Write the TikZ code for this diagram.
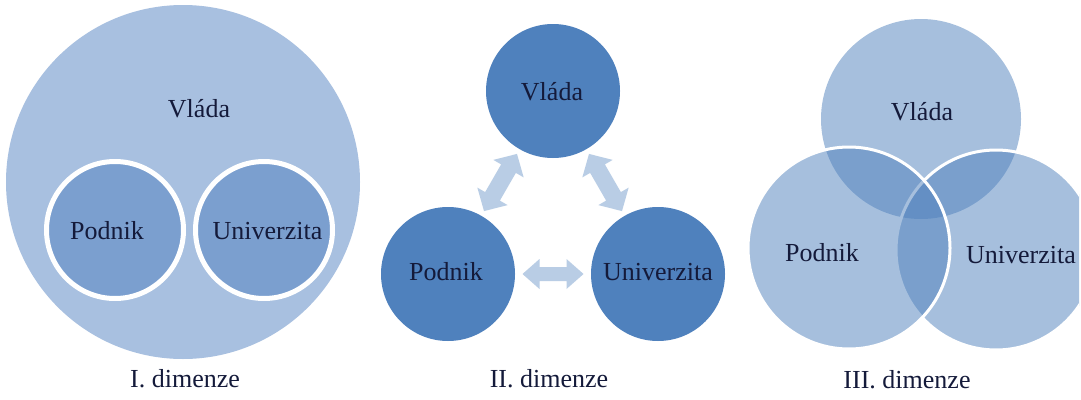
\documentclass[tikz,border=0pt]{standalone}
\usepackage{fontspec}
\setmainfont{Liberation Serif}
\newfontfamily\tnrfont{Liberation Serif}
\usetikzlibrary{calc}
\definecolor{accent}{HTML}{4F81BD}
\definecolor{bigI}{HTML}{A8C0E0}
\definecolor{innerI}{HTML}{7B9FCF}
\definecolor{arrowc}{HTML}{B9CDE5}
\definecolor{txt}{HTML}{141A3A}
% #1 half length, #2 head base, #3 half head width, #4 half shaft
\newcommand\dblarr[4]{(-#1,0) -- (-#2,#3) -- (-#2,#4) -- (#2,#4) -- (#2,#3) -- (#1,0) -- (#2,-#3) -- (#2,-#4) -- (-#2,-#4) -- (-#2,-#3) -- cycle}
\tikzset{
  lbl/.style={font=\tnrfont\fontsize{26}{30}\selectfont, text=txt, anchor=base, inner sep=0pt},
  circ/.style={circle, inner sep=0pt, minimum size=#1},
  arr/.style={fill=arrowc, draw=none},
}
\begin{document}
\begin{tikzpicture}[x=1pt,y=-1pt]
\useasboundingbox[fill=white] (0,0) rectangle (1081,399);
% ---------- I ----------
\node[circ=354pt, fill=bigI] (bigV) at (183,182) {};
\node[circ=137pt, fill=innerI, draw=white, line width=5pt] (pI) at (115,230) {};
\node[circ=137pt, fill=innerI, draw=white, line width=5pt] (uI) at (264,230) {};
\node[lbl] (tvI) at (199,117) {Vláda};
\node[lbl] (tpI) at (107,239) {Podnik};
\node[lbl] (tuI) at (267.5,239) {Univerzita};
\node[lbl] (capI) at (185,387) {I. dimenze};
% ---------- II ----------
\node[circ=134pt, fill=accent] (vII) at (553,91) {};
\node[circ=134pt, fill=accent] (pII) at (448,274) {};
\node[circ=134pt, fill=accent] (uII) at (658,274) {};
\fill[arr, shift={($(pII)!0.5!(vII)$)}, rotate=60] \dblarr{33}{16}{17.5}{8.5};
\fill[arr, shift={($(vII)!0.5!(uII)$)}, rotate=-60] \dblarr{33}{16}{17.5}{8.5};
\fill[arr, shift={($(pII)!0.5!(uII)$)}] \dblarr{30.5}{13.5}{15}{7};
\node[lbl] (tvII) at (552,100) {Vláda};
\node[lbl] (tpII) at (446,280) {Podnik};
\node[lbl] (tuII) at (658,280) {Univerzita};
\node[lbl] (capII) at (549,387) {II. dimenze};
% ---------- III ----------
\begin{scope}
\clip (0,0) rectangle (1079,399);
\node[circ=200pt, fill=accent, fill opacity=0.5] (vIII) at (921,119) {};
\node[circ=200pt, fill=accent, fill opacity=0.5, draw=white, line width=3pt] (uIII) at (996,250) {};
\node[circ=202pt, fill=accent, fill opacity=0.5, draw=white, line width=3pt] (pIII) at (849,248) {};
\end{scope}
\node[lbl] (tvIII) at (922,120) {Vláda};
\node[lbl] (tpIII) at (822,261) {Podnik};
\node[lbl] (tuIII) at (1021,263) {Univerzita};
\node[lbl] (capIII) at (907,388) {III. dimenze};
\end{tikzpicture}
\end{document}
